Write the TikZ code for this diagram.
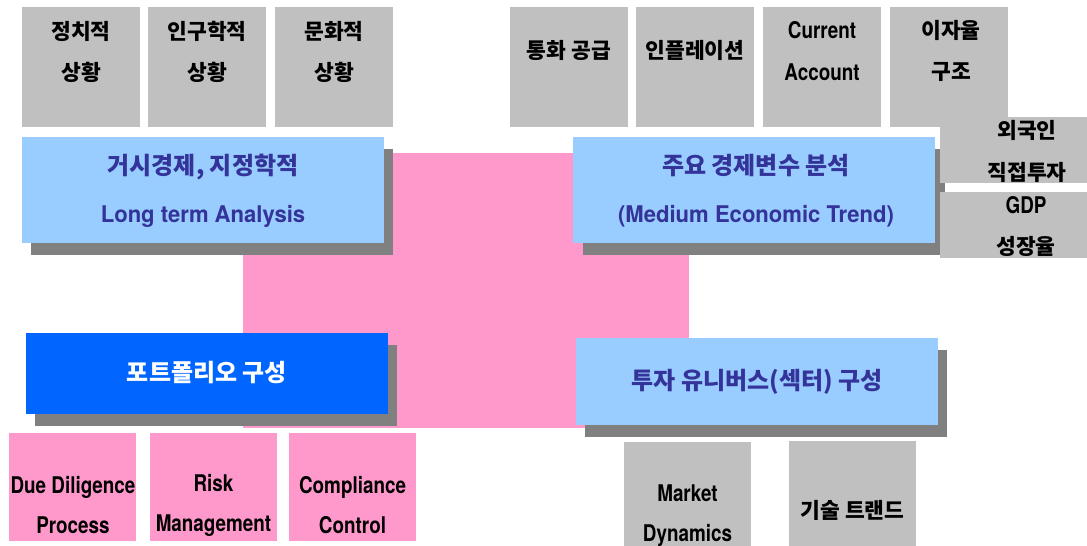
\documentclass[tikz,border=0pt]{standalone}
\usepackage{fontspec}
\usepackage{graphicx}
\setmainfont{Noto Sans CJK KR}
\newfontfamily\latf{TeX Gyre Heros}
\newcommand{\nar}[1]{\scalebox{0.82}[1]{\latf\bfseries #1}}
\newcommand{\wid}[1]{\scalebox{0.96}[1]{\latf\bfseries #1}}
\definecolor{cgray}{HTML}{C0C0C0}
\definecolor{cshadow}{HTML}{808080}
\definecolor{clblue}{HTML}{99CCFF}
\definecolor{cpink}{HTML}{FF99CC}
\definecolor{cblue}{HTML}{0066FF}
\definecolor{cnavy}{HTML}{333399}
\begin{document}
\begin{tikzpicture}[x=1pt,y=-1pt,
  rect/.style={inner sep=0pt,outer sep=0pt,draw=none},
  grayrect/.style={rect,fill=cgray},
  pinkrect/.style={rect,fill=cpink},
  bluerect/.style={rect,fill=clblue},
  shadowrect/.style={rect,fill=cshadow},
  topbox/.style={grayrect,minimum width=118pt,minimum height=120pt},
  sidebox/.style={grayrect,minimum width=147pt,minimum height=66pt},
  botpink/.style={pinkrect,minimum width=127pt,minimum height=108pt},
  botgray/.style={grayrect,minimum width=127pt,minimum height=105pt},
  bigbox/.style={minimum width=362pt,minimum height=106pt},
  lowbox/.style={minimum width=362pt,minimum height=84pt},
  blacktext/.style={inner sep=0pt,align=center,text=black,font=\fontsize{21.5}{41}\selectfont\bfseries},
  blacklatin/.style={inner sep=0pt,align=center,text=black,font=\fontsize{23}{40}\selectfont},
  navytext/.style={inner sep=0pt,align=center,text=cnavy,font=\fontsize{24}{48}\selectfont\bfseries},
  whitetext/.style={inner sep=0pt,align=center,text=white,font=\fontsize{24}{48}\selectfont\bfseries}
]
\useasboundingbox (0,0) rectangle (1087,546);
\fill[white] (0,0) rectangle (1087,546);

% central pink field
\node[pinkrect,minimum width=446pt,minimum height=275pt] (center) at (466,290.5) {};

% top-left gray boxes
\node[topbox] (b1) at (81,67) {};
\node[topbox] (b2) at (207,67) {};
\node[topbox] (b3) at (334,67) {};
\node[blacktext] (t1) at (81,51.5) {정치적\\상황};
\node[blacktext] (t2) at (207,51.5) {인구학적\\상황};
\node[blacktext] (t3) at (334,51.5) {문화적\\상황};

% top-right gray boxes
\node[topbox] (b4) at (569,67) {};
\node[topbox] (b5) at (695,67) {};
\node[topbox] (b6) at (822,67) {};
\node[topbox] (b7) at (949,67) {};
\node[blacktext] (t4) at (569,50) {통화 공급};
\node[blacktext] (t5) at (695,50) {인플레이션};
\node[blacklatin,font=\fontsize{23}{42}\selectfont] (t6) at (822,51) {\nar{Current}\\\nar{Account}};
\node[blacktext] (t7) at (951,51) {이자율\\구조};

% large boxes with shadows
\node[shadowrect,bigbox] (s1) at (212,202) {};
\node[bluerect,bigbox] (m1) at (203,190) {};
\node[navytext] (mt1) at (203,191) {거시경제, 지정학적\\{\fontsize{23}{48}\selectfont\wid{Long term Analysis}}};

\node[shadowrect,bigbox] (s2) at (764,202) {};
\node[bluerect,bigbox] (m2) at (754,190) {};
\node[navytext] (mt2) at (756,191) {주요 경제변수 분석\\{\fontsize{23}{48}\selectfont\wid{(Medium Economic Trend)}}};

\node[shadowrect,lowbox,minimum height=81pt] (s3) at (216,385.5) {};
\node[rect,fill=cblue,lowbox,minimum height=81pt] (m3) at (207,373.5) {};
\node[whitetext] (mt3) at (207,373) {포트폴리오 구성};

\node[shadowrect,lowbox,minimum height=87pt] (s4) at (766,393.5) {};
\node[bluerect,lowbox,minimum height=87pt] (m4) at (756.5,381.5) {};
\node[navytext] (mt4) at (757,382) {투자 유니버스(섹터) 구성};

% side gray boxes
\node[sidebox] (b8) at (1013.5,150) {};
\node[sidebox] (b9) at (1013.5,225) {};
\node[blacktext,font=\fontsize{21.5}{42}\selectfont\bfseries] (t8) at (1027,151) {외국인\\직접투자};
\node[blacktext] (t9) at (1026,226.5) {{\fontsize{23}{41}\selectfont\nar{GDP}}\\성장율};

% bottom pink boxes
\node[botpink] (p1) at (72.5,487) {};
\node[botpink] (p2) at (213.5,487) {};
\node[botpink] (p3) at (352.5,487) {};
\node[blacklatin] (pt1) at (73,505) {\nar{Due Diligence}\\\nar{Process}};
\node[blacklatin] (pt2) at (213.5,505) {\nar{Risk}\\\nar{Management}};
\node[blacklatin] (pt3) at (352.5,505) {\nar{Compliance}\\\nar{Control}};

% bottom gray boxes
\node[botgray,minimum height=104pt] (g1) at (687.5,494) {};
\node[botgray] (g2) at (852.5,493.5) {};
\node[blacklatin] (gt1) at (687.5,515.5) {\nar{Market}\\\nar{Dynamics}};
\node[blacktext] (gt2) at (852.5,510) {기술 트랜드};
\end{tikzpicture}
\end{document}
